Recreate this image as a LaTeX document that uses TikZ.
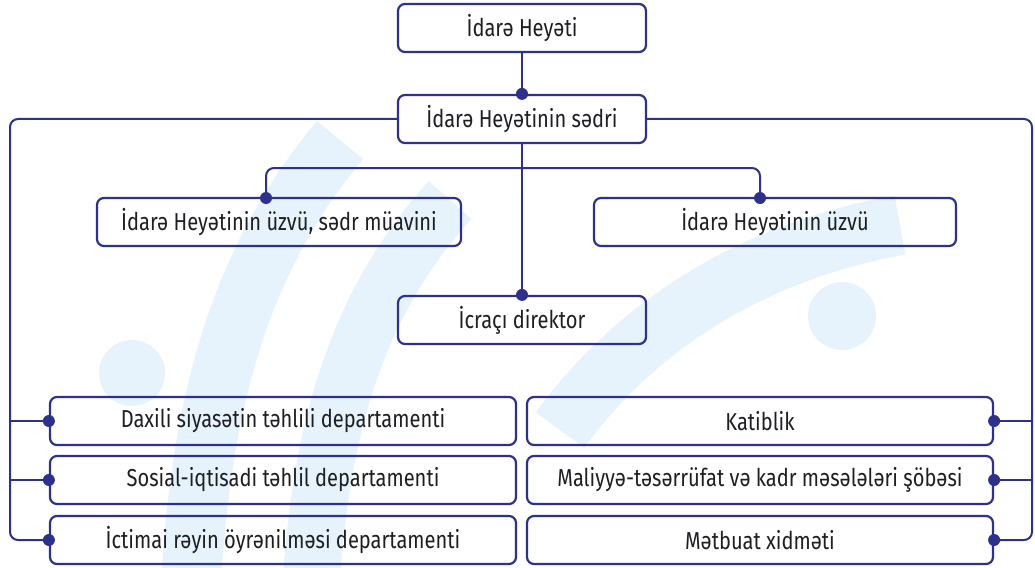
\documentclass[tikz,border=0pt]{standalone}
\usepackage{fontspec}
\setmainfont{Fira Sans}[FakeStretch=0.82]
\definecolor{navy}{RGB}{46,49,140}
\definecolor{ink}{RGB}{30,30,35}
\definecolor{wm}{RGB}{231,243,252}

\begin{document}
\begin{tikzpicture}[x=1pt, y=-1pt,
    box/.style={draw=navy, line width=2.2pt, rounded corners=7pt, text=ink,
        font=\fontsize{24.5}{28}\selectfont, minimum height=48pt, inner sep=0pt},
    headbox/.style={box, minimum width=248pt},
    deptbox/.style={box, minimum width=466pt},
    wire/.style={navy, line width=2pt, rounded corners=8pt}]

    \useasboundingbox (0,0) rectangle (1035,567);

    % watermark in the back
    \fill[wm] (842,316) circle (34pt);
    \fill[wm] (132,373) circle (33pt);
    \draw[wm, line width=60pt] (190,600) .. controls (200,400) and (240,260) .. (340,140);
    \draw[wm, line width=57pt] (310,600) .. controls (320,420) and (360,300) .. (450,200);
    \draw[wm, line width=60pt] (560,430) .. controls (640,320) and (760,250) .. (900,225);

    % top of the tree
    \node[headbox] (board) at (522,28)  {İdarə Heyəti};
    \node[headbox] (chair) at (522,119) {İdarə Heyətinin sədri};
    \node[box, minimum width=364pt] (deputy) at (279,222) {İdarə Heyətinin üzvü, sədr müavini};
    \node[box, minimum width=362pt] (member) at (775,222) {İdarə Heyətinin üzvü};
    \node[headbox] (exec) at (522,320) {İcraçı direktor};

    % departments on the left
    \node[deptbox] (L1) at (283,421) {Daxili siyasətin təhlili departamenti};
    \node[deptbox] (L2) at (283,480) {Sosial-iqtisadi təhlil departamenti};
    \node[deptbox] (L3) at (283,540) {İctimai rəyin öyrənilməsi departamenti};

    % departments on the right
    \node[deptbox] (R1) at (760,421) {Katiblik};
    \node[deptbox] (R2) at (760,480) {Maliyyə-təsərrüfat və kadr məsələləri şöbəsi};
    \node[deptbox] (R3) at (760,540) {Mətbuat xidməti};

    \coordinate (depjoin) at (266,198);
    \coordinate (memjoin) at (760,198);
    \coordinate (split) at (522,168);
    \coordinate (lbus) at (10,540);
    \coordinate (rbus) at (1032,540);

    \draw[wire] (board) -- (chair);
    \draw[wire] (chair) -- (exec);
    \draw[wire] (depjoin) |- (split) -| (memjoin);
    \draw[wire] (chair.west) -| (lbus) -- (L3.west);
    \draw[wire] (chair.east) -| (rbus) -- (R3.east);
    \draw[wire] (L1.west -| lbus) -- (L1.west);
    \draw[wire] (L2.west -| lbus) -- (L2.west);
    \draw[wire] (R1.east -| rbus) -- (R1.east);
    \draw[wire] (R2.east -| rbus) -- (R2.east);

    % joints
    \fill[navy] (chair.north) circle (6pt);
    \fill[navy] (exec.north) circle (6pt);
    \fill[navy] (depjoin) circle (6pt);
    \fill[navy] (memjoin) circle (6pt);
    \fill[navy] (L1.west) circle (6pt);
    \fill[navy] (L2.west) circle (6pt);
    \fill[navy] (L3.west) circle (6pt);
    \fill[navy] (R1.east) circle (6pt);
    \fill[navy] (R2.east) circle (6pt);
    \fill[navy] (R3.east) circle (6pt);
\end{tikzpicture}
\end{document}
